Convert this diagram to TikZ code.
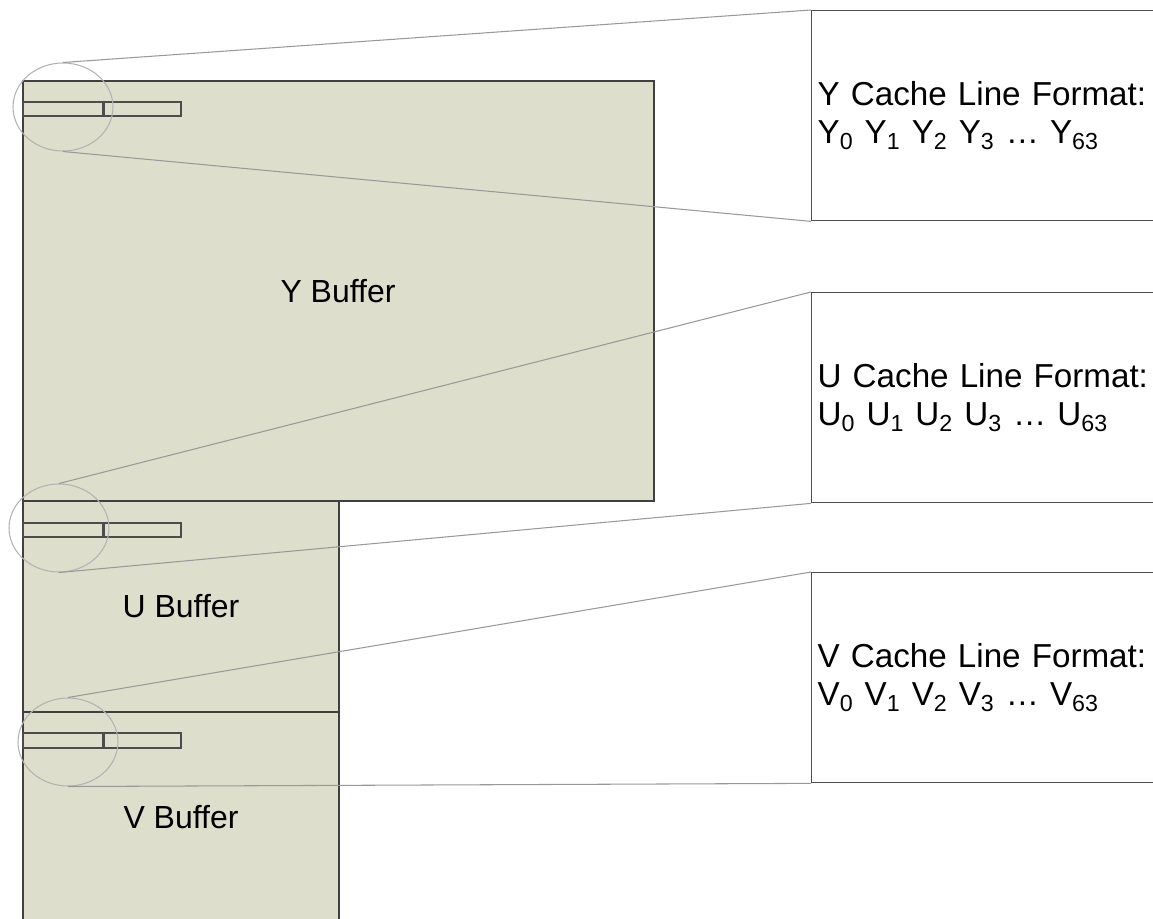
\documentclass[tikz,border=0pt]{standalone}
\usepackage{fontspec}
\setmainfont{Liberation Sans}
\usetikzlibrary{shapes.geometric}
\definecolor{buffill}{RGB}{221,223,204}

\begin{document}
\begin{tikzpicture}[x=0.02cm,y=-0.02cm,
  buffer/.style={fill=buffill,draw=black!75,line width=0.9pt},
  cell/.style={draw=black!70,line width=0.8pt},
  lens/.style={ellipse,draw=black!30,line width=0.6pt,minimum width=2cm,minimum height=1.76cm,inner sep=0pt},
  fmtbox/.style={draw=black!70,fill=white,line width=0.8pt,anchor=north west,minimum height=4.2cm,
    text width=7.04cm,inner xsep=0.12cm,align=left,font=\fontsize{18.9}{21.5}\selectfont},
  zoomline/.style={draw=black!40,line width=0.6pt},
  buflabel/.style={font=\fontsize{18.2}{22}\selectfont}]
\useasboundingbox (0,0) rectangle (1153,919);
\clip (0,0) rectangle (1153,919);

\draw[buffer] (23,81) rectangle (654,501);
\draw[buffer] (23,501) rectangle (339,712);
\draw[buffer] (23,712) rectangle (339,925);
\node[buflabel] (ybuf) at (338,291) {Y Buffer};
\node[buflabel] (ubuf) at (181,606) {U Buffer};
\node[buflabel] (vbuf) at (181,817) {V Buffer};

\draw[cell] (23,102) rectangle (103,116);
\draw[cell] (104,102) rectangle (181,116);
\draw[cell] (23,523) rectangle (103,537);
\draw[cell] (104,523) rectangle (181,537);
\draw[cell] (23,733) rectangle (103,748);
\draw[cell] (104,733) rectangle (181,748);

\node[lens] (ylens) at (63,107) {};
\node[lens] (ulens) at (59,528) {};
\node[lens] (vlens) at (68,742) {};

\node[fmtbox] (yfmt) at (811,10) {Y Cache Line Format:\\
  Y\textsubscript{0} Y\textsubscript{1} Y\textsubscript{2} Y\textsubscript{3} \ldots{} Y\textsubscript{63}};
\node[fmtbox] (ufmt) at (811,292) {U Cache Line Format:\\
  U\textsubscript{0} U\textsubscript{1} U\textsubscript{2} U\textsubscript{3} \ldots{} U\textsubscript{63}};
\node[fmtbox] (vfmt) at (811,572) {V Cache Line Format:\\
  V\textsubscript{0} V\textsubscript{1} V\textsubscript{2} V\textsubscript{3} \ldots{} V\textsubscript{63}};

\draw[zoomline] (ylens.north) -- (yfmt.north west);
\draw[zoomline] (ylens.south) -- (yfmt.south west);
\draw[zoomline] (ulens.north) -- (ufmt.north west);
\draw[zoomline] (ulens.south) -- (ufmt.south west);
\draw[zoomline] (vlens.north) -- (vfmt.north west);
\draw[zoomline] (vlens.south) -- (vfmt.south west);
\end{tikzpicture}
\end{document}
